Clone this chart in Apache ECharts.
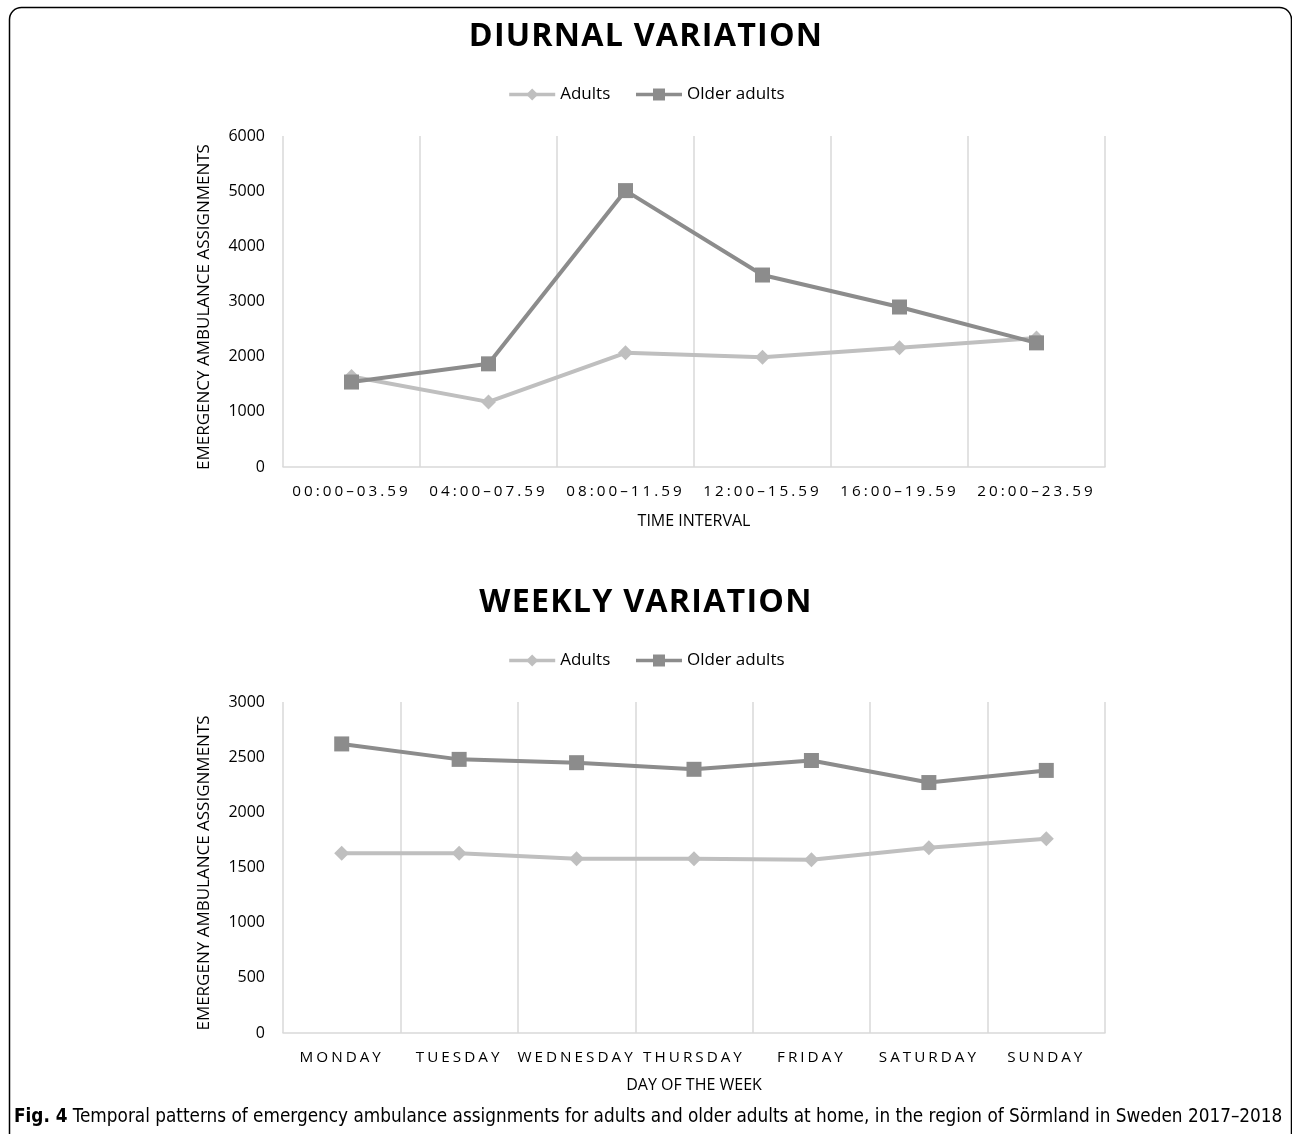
<!DOCTYPE html>
<html>
<head>
<meta charset="utf-8">
<script src="https://cdn.jsdelivr.net/npm/echarts@6/dist/echarts.min.js"></script>
<style>
html,body{margin:0;padding:0;background:#fff;}
#c{width:1292px;height:1134px;}
</style>
</head>
<body>
<div id="c"></div>
<script>
// ---- data ----
const timeIntervals = ['00:00\u201303.59','04:00\u201307.59','08:00\u201311.59','12:00\u201315.59','16:00\u201319.59','20:00\u201323.59'];
const diurnalAdults = [1640, 1180, 2070, 1990, 2160, 2340];
const diurnalOlder = [1540, 1870, 5010, 3480, 2900, 2250];

const weekDays = ['MONDAY','TUESDAY','WEDNESDAY','THURSDAY','FRIDAY','SATURDAY','SUNDAY'];
const weeklyAdults = [1630, 1630, 1580, 1580, 1570, 1680, 1760];
const weeklyOlder = [2620, 2480, 2450, 2390, 2470, 2270, 2380];

const diurnalTicks = [0, 1000, 2000, 3000, 4000, 5000, 6000];
const weeklyTicks = [0, 500, 1000, 1500, 2000, 2500, 3000];

const seriesNames = ['Adults', 'Older adults'];
const captionBold = 'Fig. 4';
const captionText = ' Temporal patterns of emergency ambulance assignments for adults and older adults at home, in the region of S\u00f6rmland in Sweden 2017\u20132018';

// ---- letter spacing for specific font sizes (canvas letterSpacing) ----
const LABEL_SIZE = 15.25;
const TITLE_SIZE = 32.25;
(function () {
  const P = CanvasRenderingContext2D.prototype;
  const orig = P.fillText;
  P.fillText = function (t, x, y, w) {
    const f = this.font || '';
    let ls = '0px';
    if (f.indexOf(LABEL_SIZE + 'px') >= 0) ls = '3px';
    else if (f.indexOf(TITLE_SIZE + 'px') >= 0) ls = '1.2px';
    if ('letterSpacing' in this) this.letterSpacing = ls;
    const r = (w === undefined ? orig.call(this, t, x, y) : orig.call(this, t, x, y, w));
    if ('letterSpacing' in this) this.letterSpacing = '0px';
    return r;
  };
})();

// ---- styles ----
const FONT = '"Open Sans", "Noto Sans", sans-serif';
const C_ADULT = '#BFBFBF';
const C_OLDER = '#8C8C8C';
const C_GRID = '#D9D9D9';

const chart = echarts.init(document.getElementById('c'), null, {renderer: 'canvas'});

function xAxis(gridIndex, cats, name, gap) {
  return {
    type: 'category', gridIndex, data: cats, boundaryGap: true,
    axisLine: {show: true, lineStyle: {color: C_GRID, width: 1.5}},
    axisTick: {show: false},
    splitLine: {show: true, lineStyle: {color: C_GRID, width: 1.5}},
    axisLabel: {color: '#000', fontFamily: FONT, fontSize: LABEL_SIZE, margin: 17, interval: 0},
    name, nameLocation: 'middle', nameGap: gap,
    nameTextStyle: {color: '#000', fontFamily: FONT, fontSize: 16}
  };
}
function yAxis(gridIndex, ticks, name) {
  return {
    type: 'value', gridIndex, min: ticks[0], max: ticks[ticks.length - 1],
    interval: ticks[1] - ticks[0],
    axisLine: {show: false}, axisTick: {show: false},
    splitLine: {show: false},
    axisLabel: {color: '#000', fontFamily: FONT, fontSize: 16, margin: 18, formatter: v => String(v)},
    name, nameLocation: 'middle', nameGap: 70, nameRotate: 90,
    nameTextStyle: {color: '#000', fontFamily: FONT, fontSize: 17, padding: [0, 11, 0, 0]}
  };
}
function lineSeries(name, data, idx, color, symbol, size) {
  return {
    name, type: 'line', data, xAxisIndex: idx, yAxisIndex: idx,
    symbol, symbolSize: size, showAllSymbol: true,
    lineStyle: {color, width: 4},
    itemStyle: {color},
    z: name === seriesNames[1] ? 3 : 2,
    animation: false
  };
}
function legend(top) {
  return {
    data: seriesNames, top, left: 'center', itemWidth: 46, itemHeight: 15, itemGap: 24,
    lineStyle: {width: 3.5},
    textStyle: {fontFamily: FONT, fontSize: 17, color: '#000'}
  };
}

const option = {
  backgroundColor: '#fff',
  animation: false,
  title: [
    {text: 'DIURNAL VARIATION', left: 'center', top: 16,
     textStyle: {fontFamily: FONT, fontSize: TITLE_SIZE, fontWeight: 'bold', color: '#000'}},
    {text: 'WEEKLY VARIATION', left: 'center', top: 582,
     textStyle: {fontFamily: FONT, fontSize: TITLE_SIZE, fontWeight: 'bold', color: '#000'}}
  ],
  legend: [legend(81), legend(647)],
  grid: [
    {left: 283, top: 136, width: 822, height: 331},
    {left: 283, top: 702, width: 822, height: 331}
  ],
  xAxis: [xAxis(0, timeIntervals, 'TIME INTERVAL', 46), xAxis(1, weekDays, 'DAY OF THE WEEK', 44)],
  yAxis: [yAxis(0, diurnalTicks, 'EMERGENCY AMBULANCE ASSIGNMENTS'), yAxis(1, weeklyTicks, 'EMERGENY AMBULANCE ASSIGNMENTS')],
  series: [
    lineSeries(seriesNames[0], diurnalAdults, 0, C_ADULT, 'diamond', 15),
    lineSeries(seriesNames[1], diurnalOlder, 0, C_OLDER, 'rect', 15),
    lineSeries(seriesNames[0], weeklyAdults, 1, C_ADULT, 'diamond', 15),
    lineSeries(seriesNames[1], weeklyOlder, 1, C_OLDER, 'rect', 15)
  ],
  graphic: [
    {type: 'rect', shape: {x: 9.5, y: 7.5, width: 1282, height: 1300, r: 12},
     style: {fill: 'none', stroke: '#000', lineWidth: 1.5}, silent: true, z: 100},
    {type: 'text', left: 14, top: 1108,
     style: {
       text: '{b|' + captionBold + '}{n|' + captionText + '}',
       rich: {
         b: {fontFamily: '"DejaVu Sans Condensed", sans-serif', fontWeight: 'bold', fontSize: 18.8, fill: '#000'},
         n: {fontFamily: '"DejaVu Sans Condensed", sans-serif', fontSize: 18.8, fill: '#000'}
       }
     }}
  ]
};
chart.setOption(option);
</script>
</body>
</html>
